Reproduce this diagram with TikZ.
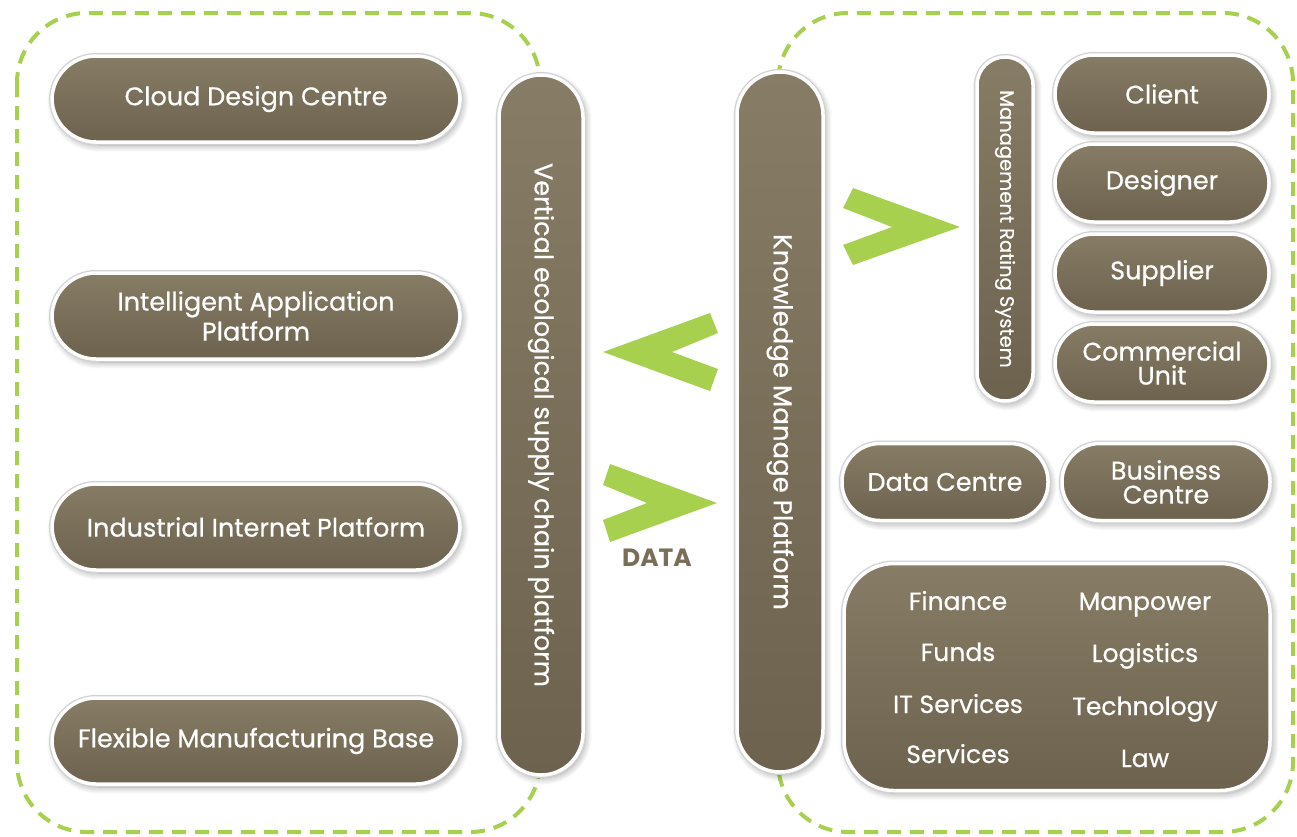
\documentclass[tikz,border=0pt]{standalone}
\usepackage{fontspec}
\setmainfont{Poppins}[UprightFeatures={FakeBold=0.6}]
\usetikzlibrary{shadows.blur}
\definecolor{pilltop}{HTML}{877C65}
\definecolor{pillbot}{HTML}{6C624E}
\definecolor{lime}{HTML}{A8D04F}
\definecolor{datatxt}{HTML}{7A6E58}
\tikzset{
  pill/.style={rectangle, rounded corners=#1, draw=white, line width=3.5pt,
    top color=pilltop, bottom color=pillbot, text=white, align=center, inner sep=0pt,
    blur shadow={shadow blur steps=8, shadow xshift=2pt, shadow yshift=-3pt, shadow opacity=40, shadow blur radius=7pt},
    preaction={draw=black!18, line width=6pt}},
  bigfont/.style={font=\fontsize{25.5}{27}\selectfont},
  groupbox/.style={draw=lime, line width=4pt, dash pattern=on 14pt off 9pt, rounded corners=70pt},
  chev/.style={fill=lime, draw=none},
  itemtxt/.style={text=white, font=\fontsize{25}{27}\selectfont, inner sep=0pt, anchor=base}
}
\begin{document}
\begin{tikzpicture}[x=1pt,y=-1pt]
\useasboundingbox (0,0) rectangle (1297,836);
% group frames
\draw[groupbox] (17,13) rectangle (540,832);
\draw[groupbox] (778,13) rectangle (1293,832);
% left pills
\node[pill=44pt, minimum width=408pt, minimum height=86pt, bigfont] (cdc) at (256,99) {Cloud Design Centre};
\node[pill=44pt, minimum width=408pt, minimum height=86pt, font=\fontsize{25.5}{30}\selectfont] (iap) at (256,316) {Intelligent Application\\Platform};
\node[pill=44pt, minimum width=408pt, minimum height=86pt, bigfont] (iip) at (256,527) {Industrial Internet Platform};
\node[pill=44pt, minimum width=408pt, minimum height=86pt, bigfont] (fmb) at (256,741) {Flexible Manufacturing Base};
% vertical pills
\node[pill=42pt, minimum width=700pt, minimum height=84pt, rotate=-90, bigfont] (vesc) at (541,425) {Vertical ecological supply chain platform};
\node[pill=43pt, minimum width=700pt, minimum height=86pt, rotate=-90, font=\fontsize{26}{28}\selectfont] (kmp) at (780,422) {Knowledge Manage Platform};
\node[pill=28pt, minimum width=344pt, minimum height=56pt, rotate=-90, font=\fontsize{19.5}{21}\selectfont] (mrs) at (1005,229) {Management Rating System};
% right pills
\node[pill=39pt, minimum width=214pt, minimum height=78pt, bigfont] (client) at (1162,94) {Client};
\node[pill=39pt, minimum width=214pt, minimum height=78pt, bigfont] (designer) at (1162,183) {Designer};
\node[pill=39pt, minimum width=214pt, minimum height=78pt, bigfont] (supplier) at (1162,273) {Supplier};
\node[pill=39pt, minimum width=214pt, minimum height=78pt, font=\fontsize{25.5}{24}\selectfont] (cu) at (1162,363) {Commercial\\Unit};
\node[pill=38pt, minimum width=206pt, minimum height=77pt, bigfont] (dc) at (945,482) {Data Centre};
\node[pill=38pt, minimum width=208pt, minimum height=77pt, font=\fontsize{25.5}{24}\selectfont] (bc) at (1166,482) {Business\\Centre};
\node[pill=50pt, minimum width=426pt, minimum height=227pt] (res) at (1057,677) {};
% resource items
\node[itemtxt] (fin) at (958,610) {Finance};
\node[itemtxt] (man) at (1145,610) {Manpower};
\node[itemtxt] (fun) at (958,661) {Funds};
\node[itemtxt] (log) at (1145,662) {Logistics};
\node[itemtxt] (its) at (958,713) {IT Services};
\node[itemtxt] (tec) at (1145,715) {Technology};
\node[itemtxt] (ser) at (958,763) {Services};
\node[itemtxt] (law) at (1145,767) {Law};
% chevrons
\fill[chev] (603,352) -- (710,313) -- (718,333) -- (672,352) -- (718,369) -- (710,391) -- cycle;
\fill[chev] (610,464) -- (717,503) -- (610,542) -- (603,520) -- (647,503) -- (603,485) -- cycle;
\fill[chev] (853,188) -- (960,227) -- (853,265) -- (843,245) -- (892,227) -- (843,208) -- cycle;
\node[text=datatxt, font=\fontsize{25}{27}\selectfont\bfseries] (data) at (657,558) {DATA};
\end{tikzpicture}
\end{document}
